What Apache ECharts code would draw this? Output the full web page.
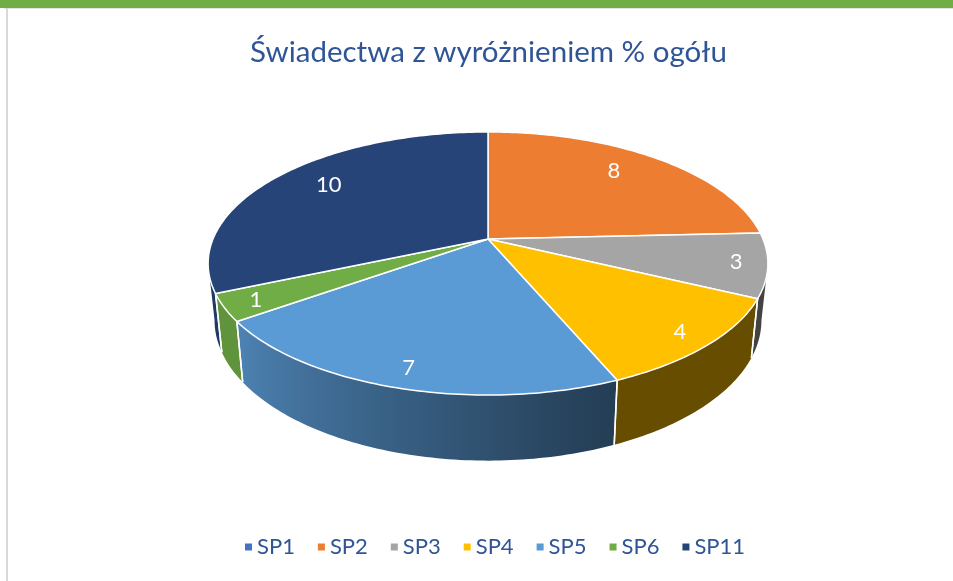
<!DOCTYPE html>
<html>
<head>
<meta charset="utf-8">
<script src="https://cdn.jsdelivr.net/npm/echarts@6/dist/echarts.min.js"></script>
<style>
  html, body { margin: 0; padding: 0; background: #fff; }
  #chart { width: 953px; height: 581px; }
</style>
</head>
<body>
<div id="chart"></div>
<script>
// data (labels show rounded values)
var categories = ['SP1', 'SP2', 'SP3', 'SP4', 'SP5', 'SP6', 'SP11'];
var values = [0, 8.0, 2.6, 3.8, 7.1, 1.1, 10.4];
var colors = ['#4472C4', '#ED7D31', '#A5A5A5', '#FFC000', '#5B9BD5', '#70AD47', '#264478'];
var titleText = 'Świadectwa z wyróżnieniem % ogółu';

// 3d pie look: centre, radii, perspective, thickness
var CX = 488, CY = 239, RA = 275, RB = 127, PERSP = 0.186;
var BOT_SX = 0.977, BOT_SY = 1.068, DEPTH = 55;
var SIDE_FROM = 90 + Math.asin(PERSP) * 180 / Math.PI;
var SIDE_TO = 270 - Math.asin(PERSP) * 180 / Math.PI;
var FONT = 'Lato, "Noto Sans", sans-serif';

var total = values.reduce(function (a, b) { return a + b; }, 0);

function proj(deg, r, bottom) {
  var t = deg * Math.PI / 180;
  var u = r * Math.sin(t), v = r * Math.cos(t);
  var d = 1 + PERSP * v;
  var dx = RA * u / d, dy = -RB * v / d;
  if (bottom) {
    dx = dx * BOT_SX;
    dy = dy * BOT_SY + DEPTH;
  }
  return [CX + dx, CY + dy];
}

function arc(a0, a1, bottom) {
  var pts = [];
  var n = Math.max(2, Math.ceil(a1 - a0));
  for (var k = 0; k <= n; k++) {
    pts.push(proj(a0 + (a1 - a0) * k / n, 1, bottom));
  }
  return pts;
}

function shade(hex, f) {
  var c = parseInt(hex.slice(1), 16);
  var r = Math.round(((c >> 16) & 255) * f);
  var g = Math.round(((c >> 8) & 255) * f);
  var b = Math.round((c & 255) * f);
  return 'rgb(' + r + ',' + g + ',' + b + ')';
}

// darker on the right, lighter on the left front
function light(deg) {
  if (deg <= 160) return 0.4;
  if (deg >= 235) return 0.85;
  return 0.4 + 0.45 * (deg - 160) / 75;
}

function startOf(i) {
  var s = 0;
  for (var k = 0; k < i; k++) s += values[k];
  return s / total * 360;
}

function makeRender(i) {
  return function (params, api) {
    var val = values[i];
    if (!val) return null;
    var a0 = startOf(i);
    var a1 = a0 + val / total * 360;
    var children = [];

    // side wall
    var s0 = Math.max(a0, SIDE_FROM), s1 = Math.min(a1, SIDE_TO);
    if (s1 > s0) {
      var top = arc(s0, s1, false);
      var bot = arc(s0, s1, true).reverse();
      var xs = top.map(function (p) { return p[0]; });
      var xmin = Math.min.apply(null, xs), xmax = Math.max.apply(null, xs);
      var stops = [];
      for (var k = 0; k <= 12; k++) {
        var a = s0 + (s1 - s0) * k / 12;
        var x = proj(a, 1, false)[0];
        stops.push({ offset: xmax > xmin ? (x - xmin) / (xmax - xmin) : k / 12, color: shade(colors[i], light(a)) });
      }
      stops.sort(function (p, q) { return p.offset - q.offset; });
      children.push({
        type: 'polygon',
        z2: 1,
        shape: { points: top.concat(bot) },
        style: {
          fill: { type: 'linear', x: 0, y: 0, x2: 1, y2: 0, colorStops: stops },
          stroke: null
        }
      });
      [a0, a1].forEach(function (e) {
        if (e >= SIDE_FROM && e <= SIDE_TO) {
          var p = proj(e, 1, false), q = proj(e, 1, true);
          children.push({
            type: 'line', z2: 2,
            shape: { x1: p[0], y1: p[1], x2: q[0], y2: q[1] },
            style: { stroke: '#fff', lineWidth: 1.5 }
          });
        }
      });
    }

    // top face
    children.push({
      type: 'polygon',
      z2: 5,
      shape: { points: [[CX, CY]].concat(arc(a0, a1, false)) },
      style: { fill: colors[i], stroke: '#fff', lineWidth: 1.5, lineJoin: 'round' }
    });

    // value label, big slices pulled a little toward the back
    var span = a1 - a0;
    var mid = (a0 + a1) / 2;
    if (span > 80) mid += mid > 180 ? 3 : -3;
    var lp = proj(mid, span < 80 ? 0.89 : 0.78, false);
    children.push({
      type: 'text',
      z2: 10,
      x: lp[0], y: lp[1],
      style: {
        text: String(Math.round(val)),
        fill: '#fff',
        font: '22px ' + FONT,
        align: 'center',
        verticalAlign: 'middle'
      }
    });
    return { type: 'group', children: children };
  };
}

var series = categories.map(function (name, i) {
  return {
    type: 'custom',
    name: name,
    coordinateSystem: 'none',
    itemStyle: { color: colors[i] },
    silent: true,
    data: [{ value: values[i], name: name }],
    renderItem: makeRender(i)
  };
});

var chart = echarts.init(document.getElementById('chart'));
chart.setOption({
  backgroundColor: '#fff',
  animation: false,
  title: {
    text: titleText,
    left: 245,
    top: 32,
    textStyle: {
      color: '#2F5597',
      fontWeight: 'normal',
      fontSize: 29.5,
      fontFamily: FONT
    }
  },
  legend: {
    data: categories,
    bottom: 18,
    left: 240,
    icon: 'rect',
    itemWidth: 7,
    itemHeight: 7,
    itemGap: 23,
    textStyle: { color: '#2F5597', fontSize: 22, fontFamily: FONT }
  },
  graphic: [
    { type: 'rect', shape: { x: 0, y: 0, width: 953, height: 8 }, style: { fill: '#70AD47' } },
    { type: 'rect', shape: { x: 4, y: 8, width: 949, height: 1 }, style: { fill: '#E3E3E3' } },
    { type: 'rect', shape: { x: 6, y: 8, width: 2, height: 573 }, style: { fill: '#D9D9D9' } }
  ],
  series: series
});
</script>
</body>
</html>
